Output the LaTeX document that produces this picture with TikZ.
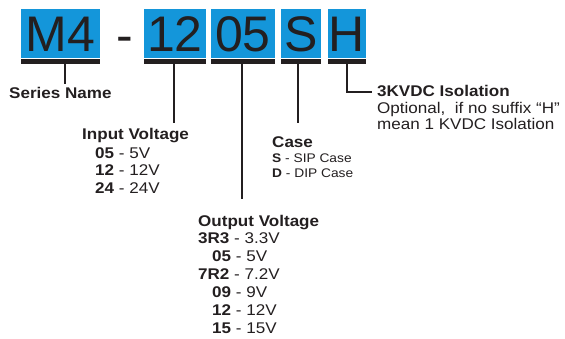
\documentclass[tikz,border=0pt]{standalone}
\usepackage{fontspec}
\setmainfont{Liberation Sans}
\newfontfamily\labfont[FakeStretch=1.1]{Liberation Sans}
\newfontfamily\codefont{Liberation Sans}
\definecolor{codeblue}{RGB}{20,150,218}
\definecolor{ink}{RGB}{35,31,32}
\begin{document}
\begin{tikzpicture}[x=1pt,y=-1pt,
  codebox/.style={fill=codeblue, inner sep=0pt, minimum height=49pt, text=ink,
    font=\codefont\fontsize{50}{50}\selectfont, text height=36pt, text depth=0pt},
  bar/.style={fill=ink, inner sep=0pt, minimum height=4.5pt, anchor=north},
  lead/.style={line width=2pt, draw=ink},
  lab/.style={anchor=base west, inner sep=0pt, text=ink, font=\labfont\fontsize{15.5}{18}\selectfont},
  smalllab/.style={lab, font=\labfont\fontsize{12.5}{15}\selectfont}]
\useasboundingbox (0,0) rectangle (565,338);
% code boxes
\node[codebox, minimum width=79pt] (m4) at (60.5,33.5) {M4};
\node[text=ink, inner sep=0pt, anchor=base, font=\codefont\fontsize{50}{50}\selectfont] (dash) at (125,52) {-};
\node[codebox, minimum width=62pt] (c12) at (175,33.5) {12};
\node[codebox, minimum width=64pt] (c05) at (243,33.5) {05};
\node[codebox, minimum width=40pt] (cs) at (301,33.5) {S};
\node[codebox, minimum width=38pt] (ch) at (347,33.5) {H};
% bars
\node[bar, minimum width=79pt] (m4b) at ([yshift=-1pt]m4.south) {};
\node[bar, minimum width=62pt] (c12b) at ([yshift=-1pt]c12.south) {};
\node[bar, minimum width=64pt] (c05b) at ([yshift=-1pt]c05.south) {};
\node[bar, minimum width=40pt] (csb) at ([yshift=-1pt]cs.south) {};
\node[bar, minimum width=38pt] (chb) at ([yshift=-1pt]ch.south) {};
% labels
\node[lab] (series) at (9,98) {\bfseries Series Name};
\node[lab] (inp) at (82,139) {\bfseries Input Voltage};
\node[lab] (in1) at (95,158) {\bfseries 05\mdseries\ - 5V};
\node[lab] (in2) at (95,175.5) {\bfseries 12\mdseries\ - 12V};
\node[lab] (in3) at (95,193) {\bfseries 24\mdseries\ - 24V};
\node[lab] (case) at (272,147) {\bfseries Case};
\node[smalllab] (case1) at (272,162) {\bfseries S\mdseries\ - SIP Case};
\node[smalllab] (case2) at (272,177) {\bfseries D\mdseries\ - DIP Case};
\node[lab] (outp) at (198,226) {\bfseries Output Voltage};
\node[lab] (o1) at (198,243) {\bfseries 3R3\mdseries\ - 3.3V};
\node[lab] (o2) at (212,261) {\bfseries 05\mdseries\ - 5V};
\node[lab] (o3) at (198,279) {\bfseries 7R2\mdseries\ - 7.2V};
\node[lab] (o4) at (212,297) {\bfseries 09\mdseries\ - 9V};
\node[lab] (o5) at (212,315) {\bfseries 12\mdseries\ - 12V};
\node[lab] (o6) at (212,333) {\bfseries 15\mdseries\ - 15V};
\node[lab] (iso) at (377,96) {\bfseries 3KVDC Isolation};
\node[lab] (iso1) at (377,113) {Optional,~ if no suffix “H”};
\node[lab] (iso2) at (377,129) {mean 1 KVDC Isolation};
% leaders
\draw[lead] ([xshift=4.5pt]m4b.south) -- ++(0,20);
\draw[lead] ([xshift=-1pt]c12b.south) -- ++(0,58.5);
\draw[lead] ([xshift=-1pt]c05b.south) -- ++(0,134.5);
\draw[lead] ([xshift=-3pt]csb.south) -- ++(0,58.5);
\draw[lead] (chb.south) |- ++(25,28.2);
\end{tikzpicture}
\end{document}
